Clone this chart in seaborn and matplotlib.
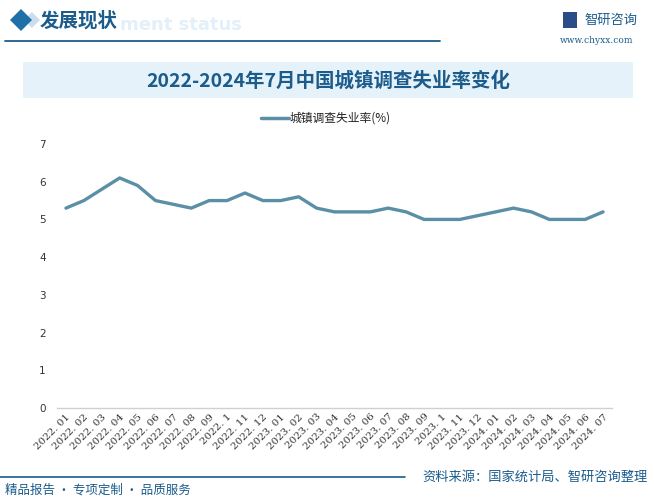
import matplotlib
matplotlib.use("Agg")
import matplotlib.pyplot as plt
import seaborn as sns
import pandas as pd
from matplotlib.patches import Rectangle, Polygon
from matplotlib.lines import Line2D

months = ["2022.01", "2022.02", "2022.03", "2022.04", "2022.05", "2022.06", "2022.07", "2022.08",
          "2022.09", "2022.1", "2022.11", "2022.12", "2023.01", "2023.02", "2023.03", "2023.04",
          "2023.05", "2023.06", "2023.07", "2023.08", "2023.09", "2023.1", "2023.11", "2023.12",
          "2024.01", "2024.02", "2024.03", "2024.04", "2024.05", "2024.06", "2024.07"]
rate = [5.3, 5.5, 5.8, 6.1, 5.9, 5.5, 5.4, 5.3, 5.5, 5.5, 5.7, 5.5,
        5.5, 5.6, 5.3, 5.2, 5.2, 5.2, 5.3, 5.2, 5.0, 5.0, 5.0, 5.1,
        5.2, 5.3, 5.2, 5.0, 5.0, 5.0, 5.2]
yticks = [0, 1, 2, 3, 4, 5, 6, 7]
series_name = "城镇调查失业率(%)"
title = "2022-2024年7月中国城镇调查失业率变化"

sns.set_theme(style="white")
plt.rcParams['font.family'] = ['Noto Sans CJK SC', 'DejaVu Sans']

W, H = 654, 501
fig = plt.figure(figsize=(W / 100, H / 100), dpi=100)
fig.patch.set_facecolor("white")

def fx(x):
    return x / W

def fy(y):
    return 1 - y / H

dark_blue = "#1b5c8c"
line_color = "#5a8fa6"

# header
fig.patches.append(Polygon([[fx(24), fy(20)], [fx(32), fy(12)], [fx(40), fy(20)], [fx(32), fy(28)]],
                           closed=True, transform=fig.transFigure, facecolor="#c9dff0", edgecolor="none", zorder=0))
fig.patches.append(Polygon([[fx(10), fy(20)], [fx(21), fy(9)], [fx(32), fy(20)], [fx(21), fy(31)]],
                           closed=True, transform=fig.transFigure, facecolor="#1f6fa8", edgecolor="none"))
fig.text(fx(120), fy(25), "ment status", fontsize=13, fontweight="bold", color="#e3f0f9",
         ha="left", va="center", family=["DejaVu Sans"], zorder=0)
fig.text(fx(40), fy(21), "发展现状", fontsize=14, fontweight="bold", color=dark_blue, ha="left", va="center")
fig.lines.append(Line2D([fx(5), fx(440)], [fy(41), fy(41)], transform=fig.transFigure, color=dark_blue, lw=1.3))
fig.text(fx(584), fy(20), "智研咨询", fontsize=9.5, color=dark_blue, ha="left", va="center")
fig.patches.append(Rectangle((fx(563), fy(28)), 14 / W, 16 / H, transform=fig.transFigure,
                             facecolor="#2a4d8a", edgecolor="none"))
fig.text(fx(597), fy(41), "www.chyxx.com", fontsize=6.5, color=dark_blue, ha="center", va="center",
         family=["DejaVu Serif"])

# title box
fig.patches.append(Rectangle((fx(23), fy(98)), 610 / W, 36 / H, transform=fig.transFigure,
                             facecolor="#e6f2fa", edgecolor="none"))
fig.text(fx(328), fy(81), title, fontsize=14, fontweight="bold", color=dark_blue, ha="center", va="center")

# legend
fig.lines.append(Line2D([fx(261), fx(289)], [fy(118), fy(118)], transform=fig.transFigure,
                        color=line_color, lw=2.5))
fig.text(fx(290), fy(118), series_name, fontsize=8.5, color="#222222", ha="left", va="center")

# axes
ax = fig.add_axes([fx(57), fy(408), 555 / W, 264 / H])
df = pd.DataFrame({"month": months, "rate": rate})
df["idx"] = range(len(months))
sns.lineplot(data=df, x="idx", y="rate", ax=ax, color=line_color, lw=2.4)
ax.set_xlim(-0.5, len(months) - 0.5)
ax.set_ylim(0, 7)
ax.set_yticks(yticks)
ax.set_yticklabels([str(v) for v in yticks], fontsize=7.5, color="#333333", family=["DejaVu Sans"])
ax.set_xticks(range(len(months)))
ax.set_xticklabels([m.replace(".", ". ") for m in months], rotation=45, ha="right", rotation_mode="anchor",
                   fontsize=7.4, color="#333333", family=["DejaVu Serif"])
ax.set_xlabel("")
ax.set_ylabel("")
for s in ["top", "right", "left"]:
    ax.spines[s].set_visible(False)
ax.spines["bottom"].set_color("#d0d0d0")
ax.spines["bottom"].set_linewidth(1)
ax.tick_params(axis="both", length=0)
ax.tick_params(axis="x", pad=3)
ax.tick_params(axis="y", pad=8)
ax.set_facecolor("none")

# footer
fig.lines.append(Line2D([fx(0), fx(405)], [fy(477), fy(477)], transform=fig.transFigure, color=dark_blue, lw=1.2))
fig.text(fx(5), fy(490), "精品报告 · 专项定制 · 品质服务", fontsize=9, color=dark_blue, ha="left", va="center")
fig.text(fx(648), fy(477), "资料来源：国家统计局、智研咨询整理", fontsize=9.5, color=dark_blue, ha="right", va="center")

fig.savefig("out.png", dpi=100, facecolor="white")
